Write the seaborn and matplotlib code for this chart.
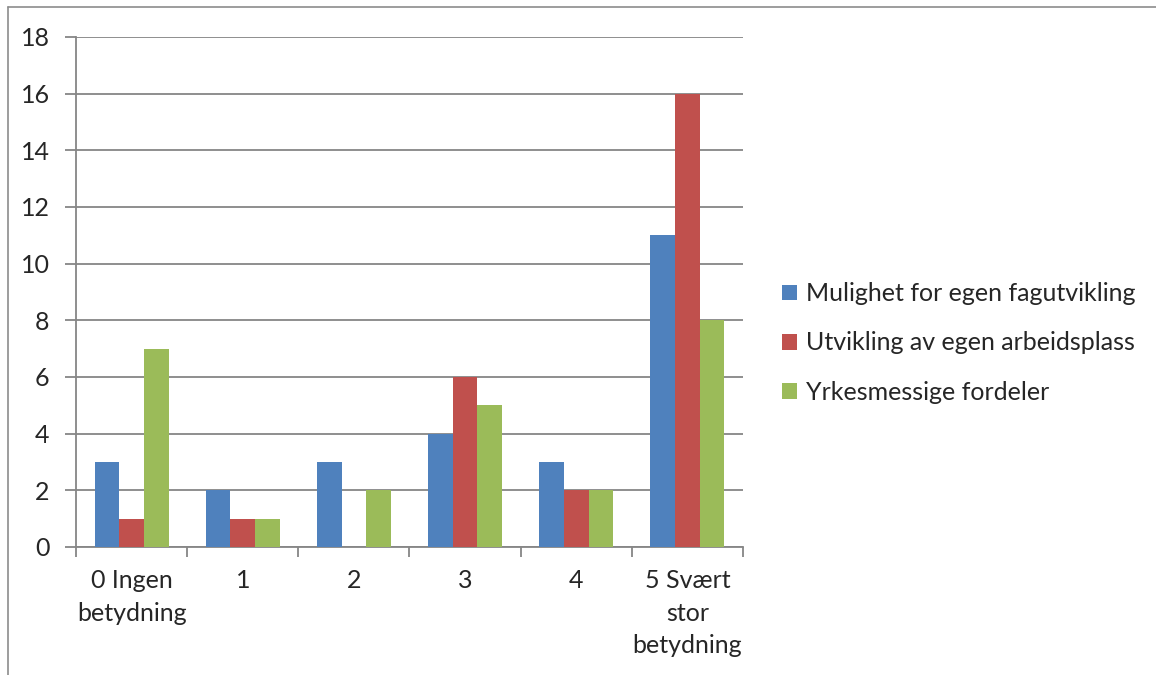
import seaborn as sns
import matplotlib.pyplot as plt
import numpy as np
import pandas as pd
from matplotlib.lines import Line2D

# data
categories = ["0 Ingen\nbetydning", "1", "2", "3", "4", "5 Svært\nstor\nbetydning"]
series = ["Mulighet for egen fagutvikling", "Utvikling av egen arbeidsplass", "Yrkesmessige fordeler"]
fagutvikling = [3, 2, 3, 4, 3, 11]
arbeidsplass = [1, 1, 0, 6, 2, 16]
fordeler = [7, 1, 2, 5, 2, 8]

df = pd.DataFrame({
    "kategori": categories * 3,
    "serie": [series[0]] * 6 + [series[1]] * 6 + [series[2]] * 6,
    "antall": fagutvikling + arbeidsplass + fordeler,
})

sns.set_style("white")
plt.rcParams['font.family'] = ['Lato', 'DejaVu Sans']

fig = plt.figure(figsize=(11.56, 6.75), dpi=100)
ax = fig.add_axes([76/1156, 1 - 547/675, (743-76)/1156, (547-37)/675])

farger = ["#4F81BD", "#C0504D", "#9BBB59"]
sns.barplot(data=df, x="kategori", y="antall", hue="serie", palette=farger,
            width=3/4.5, gap=0, saturation=1, linewidth=0, ax=ax, zorder=3)

grid_c = "#868686"
ax.set_ylim(0, 18)
ax.set_xlim(-0.5, 5.5)
ax.set_yticks(range(0, 19, 2))
ax.yaxis.grid(True, color=grid_c, linewidth=1.3, zorder=0)
ax.set_axisbelow(True)
ax.set_xlabel("")
ax.set_ylabel("")

for s in ["top", "right"]:
    ax.spines[s].set_visible(False)
for s in ["left", "bottom"]:
    ax.spines[s].set_color(grid_c)
    ax.spines[s].set_linewidth(1.3)

ax.tick_params(axis="y", length=8, width=1.3, color=grid_c, labelsize=18, pad=11, left=True)
ax.set_xticks(range(6))
ax.set_xticklabels(categories, fontsize=18, linespacing=1.5)
ax.tick_params(axis="x", which="major", length=0, pad=16)
ax.set_xticks(np.arange(-0.5, 6, 1), minor=True)
ax.tick_params(axis="x", which="minor", length=7, width=1.3, color=grid_c, bottom=True)

handles, labels = ax.get_legend_handles_labels()
ax.legend(handles, labels, loc="center left", bbox_to_anchor=(759/1156, 1 - 343/675),
          bbox_transform=fig.transFigure, frameon=False, fontsize=18,
          handlelength=0.6, handleheight=0.6, handletextpad=0.4, labelspacing=1.05)

# chart border
kant = "#8c8c8c"
fig.add_artist(Line2D([8/1156, 8/1156], [0, 1 - 7/675], color=kant, linewidth=1.2))
fig.add_artist(Line2D([8/1156, 1], [1 - 7/675, 1 - 7/675], color=kant, linewidth=1.2))

fig.savefig("out.png", dpi=100)
